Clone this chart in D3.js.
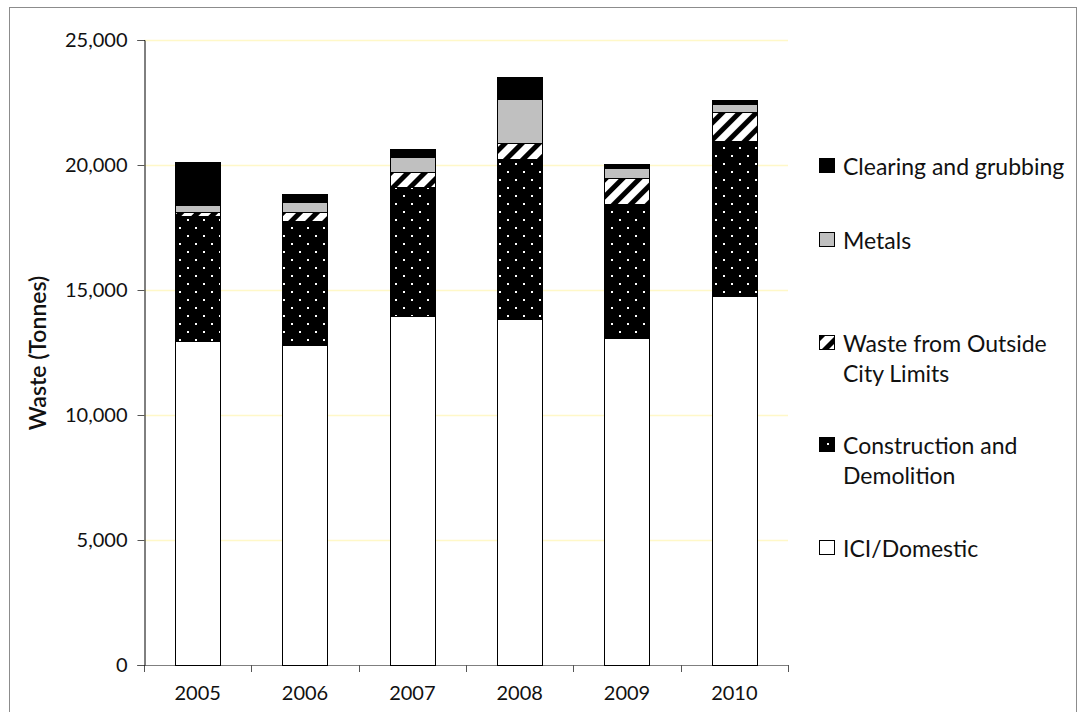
<!DOCTYPE html>
<html>
<head>
<meta charset="utf-8">
<script src="https://cdn.jsdelivr.net/npm/d3@7"></script>
<style>
  html, body { margin: 0; padding: 0; background: #fff; }
  svg { display: block; }
  text { font-family: Lato, "Open Sans", sans-serif; fill: #111; }
</style>
</head>
<body>
<svg id="chart" width="1083" height="712"></svg>
<script>
// Annual landfill waste by source (tonnes)
const years = ["2005", "2006", "2007", "2008", "2009", "2010"];
const iciDomestic      = [12950, 12800, 13960, 13830, 13080, 14760];
const constructionDemo = [5030, 4960, 5170, 6410, 5350, 6210];
const outsideCity      = [130, 350, 610, 630, 1050, 1150];
const metals           = [300, 430, 590, 1760, 390, 320];
const clearingGrubbing = [1700, 320, 300, 900, 160, 160];
const yTicks = [0, 5000, 10000, 15000, 20000, 25000];

const seriesNames = ["ICI/Domestic", "Construction and Demolition", "Waste from Outside City Limits", "Metals", "Clearing and grubbing"];
const seriesValues = [iciDomestic, constructionDemo, outsideCity, metals, clearingGrubbing];

const svg = d3.select("#chart");
const defs = svg.append("defs");

// dotted fill: black with white dots on a diagonal lattice
const dots = defs.append("pattern").attr("id", "dots")
  .attr("patternUnits", "userSpaceOnUse").attr("width", 16).attr("height", 16);
dots.append("rect").attr("width", 16).attr("height", 16).attr("fill", "#000");
dots.append("rect").attr("x", 3).attr("y", 3).attr("width", 2).attr("height", 2).attr("fill", "#fff");
dots.append("rect").attr("x", 11).attr("y", 11).attr("width", 2).attr("height", 2).attr("fill", "#fff");

// wide upward diagonal stripes
const hatch = defs.append("pattern").attr("id", "hatch")
  .attr("patternUnits", "userSpaceOnUse").attr("width", 12).attr("height", 12)
  .attr("patternTransform", "rotate(45)");
hatch.append("rect").attr("width", 12).attr("height", 12).attr("fill", "#fff");
hatch.append("rect").attr("width", 5).attr("height", 12).attr("fill", "#000");

const fills = ["#ffffff", "url(#dots)", "url(#hatch)", "#c0c0c0", "#000000"];

// outer frame
svg.append("rect").attr("x", 9.5).attr("y", 7.5).attr("width", 1067).attr("height", 720)
  .attr("fill", "none").attr("stroke", "#8c8c8c").attr("stroke-width", 1);

const plotLeft = 144, plotRight = 788, plotTop = 40, plotBottom = 665;

const x = d3.scaleBand().domain(years).range([plotLeft, plotRight])
  .paddingInner(0.58).paddingOuter(0.29);
const y = d3.scaleLinear().domain([0, 25000]).range([plotBottom, plotTop]);

// gridlines
svg.append("g").selectAll("line").data(yTicks.filter(d => d > 0)).join("line")
  .attr("x1", plotLeft).attr("x2", plotRight)
  .attr("y1", d => Math.round(y(d)) + 0.5).attr("y2", d => Math.round(y(d)) + 0.5)
  .attr("stroke", "#fff8c8").attr("stroke-width", 1.5);

// x axis: baseline and category boundary ticks
const step = x.step();
const gap = step - x.bandwidth();
const bounds = years.map(yr => x(yr) - gap / 2).concat([x(years[years.length - 1]) + x.bandwidth() + gap / 2]);
const xAxis = svg.append("g");
xAxis.append("line").attr("x1", plotLeft).attr("x2", plotRight)
  .attr("y1", plotBottom + 0.5).attr("y2", plotBottom + 0.5).attr("stroke", "#7f7f7f");
xAxis.selectAll("line.tick").data(bounds).join("line").attr("class", "tick")
  .attr("x1", d => Math.round(d) + 0.5).attr("x2", d => Math.round(d) + 0.5)
  .attr("y1", plotBottom).attr("y2", plotBottom + 7).attr("stroke", "#555");
svg.append("g")
  .attr("transform", `translate(0,${plotBottom})`)
  .call(d3.axisBottom(x).tickSize(0).tickPadding(21))
  .call(g => g.select(".domain").remove())
  .call(g => g.selectAll("text").style("font-size", "20px").style("font-family", "Lato, sans-serif").attr("fill", "#111"));

// stacked bars
const stacked = years.map((yr, i) => {
  let acc = 0;
  return seriesValues.map((vals, s) => {
    const y0 = acc; acc += vals[i];
    return { year: yr, s, y0, y1: acc };
  });
}).flat();

svg.append("g").selectAll("rect").data(stacked).join("rect")
  .attr("x", d => Math.round(x(d.year)) + 0.5)
  .attr("width", Math.round(x.bandwidth()))
  .attr("y", d => Math.round(y(d.y1)) + 0.5)
  .attr("height", d => Math.max(0, Math.round(y(d.y0)) - Math.round(y(d.y1))))
  .attr("fill", d => fills[d.s])
  .attr("stroke", "#000").attr("stroke-width", 1);

// y axis
svg.append("g")
  .attr("transform", `translate(${plotLeft + 0.5},0)`)
  .call(d3.axisLeft(y).tickValues(yTicks).tickFormat(d3.format(",")).tickSize(7).tickPadding(10))
  .call(g => g.select(".domain").attr("stroke", "#000"))
  .call(g => g.selectAll(".tick line").attr("stroke", "#555"))
  .call(g => g.selectAll("text").style("font-size", "20px").style("font-family", "Lato, sans-serif").attr("fill", "#111"));

// y axis title
svg.append("text")
  .attr("transform", "translate(40,353) rotate(-90)")
  .attr("text-anchor", "middle")
  .attr("dominant-baseline", "middle")
  .style("font-size", "23px").style("font-weight", "600")
  .text("Waste (Tonnes)");

// legend (top entry is the top of the stack)
const legendItems = [
  { s: 4, lines: ["Clearing and grubbing"], cy: 166 },
  { s: 3, lines: ["Metals"], cy: 240 },
  { s: 2, lines: ["Waste from Outside", "City Limits"], cy: 343 },
  { s: 1, lines: ["Construction and", "Demolition"], cy: 445 },
  { s: 0, lines: ["ICI/Domestic"], cy: 548 }
];
const lg = svg.append("g").selectAll("g").data(legendItems).join("g");
lg.append("rect")
  .attr("x", 819.5).attr("y", d => d.cy - 7.5).attr("width", 15).attr("height", 14)
  .attr("fill", d => fills[d.s]).attr("stroke", "#000");
lg.append("text")
  .attr("x", 843).attr("y", d => d.cy)
  .attr("dominant-baseline", "central")
  .style("font-size", "23px")
  .each(function (d) {
    d3.select(this).selectAll("tspan").data(d.lines).join("tspan")
      .attr("x", 843).attr("dy", (t, i) => i === 0 ? 0 : 30).text(t => t);
  });
</script>
</body>
</html>
